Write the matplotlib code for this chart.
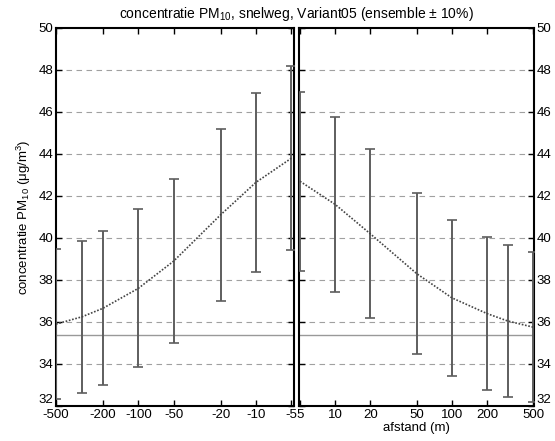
import matplotlib.pyplot as plt
from matplotlib.ticker import FixedLocator, FixedFormatter, NullLocator

plt.rcParams['font.family'] = ['Liberation Sans', 'DejaVu Sans']
plt.rcParams['font.size'] = 9.5
plt.rcParams['mathtext.fontset'] = 'custom'
plt.rcParams['mathtext.rm'] = 'Liberation Sans'
plt.rcParams['mathtext.it'] = 'Liberation Sans'

# distance to the road (m), upwind side (plotted as negative) and downwind side
dist_left = [500, 300, 200, 100, 50, 20, 10, 5]
conc_left = [35.9, 36.25, 36.65, 37.6, 38.9, 41.1, 42.65, 43.8]
dist_right = [5, 10, 20, 50, 100, 200, 300, 500]
conc_right = [42.7, 41.6, 40.2, 38.3, 37.15, 36.4, 36.05, 35.75]
background = 35.4
spread = 0.10  # ensemble +/- 10%

xticks_left = [500, 200, 100, 50, 20, 10, 5]
xlabels_left = ['-500', '-200', '-100', '-50', '-20', '-10', '-5']
xticks_right = [5, 10, 20, 50, 100, 200, 500]
xlabels_right = ['5', '10', '20', '50', '100', '200', '500']
yticks = list(range(32, 51, 2))

W, H = 555, 441
fig = plt.figure(figsize=(W / 100, H / 100), dpi=100)
ax_l = fig.add_axes([56 / W, 1 - 406 / H, 238 / W, 378 / H])
ax_r = fig.add_axes([299 / W, 1 - 406 / H, 235 / W, 378 / H])

bar_col = '#5e5e5e'
for ax, d, c, xt, xl in [(ax_l, dist_left, conc_left, xticks_left, xlabels_left),
                         (ax_r, dist_right, conc_right, xticks_right, xlabels_right)]:
    ax.set_xscale('log')
    for y in yticks[1:-1]:
        ax.axhline(y, color='#a0a0a0', lw=0.8, ls=(0, (5, 4)), zorder=1)
    ax.axhline(background, color='#999999', lw=1.0, zorder=2)
    ax.errorbar(d, c, yerr=[ci * spread for ci in c], fmt='none', ecolor=bar_col,
                elinewidth=1.4, capsize=3.7, capthick=1.2, zorder=3)
    ax.plot(d, c, color='#444444', lw=1.2, ls=(0, (1, 1)), zorder=4)
    ax.set_ylim(32, 50)
    ax.xaxis.set_major_locator(FixedLocator(xt))
    ax.xaxis.set_major_formatter(FixedFormatter(xl))
    ax.xaxis.set_minor_locator(NullLocator())
    ax.set_yticks(yticks)
    ax.tick_params(direction='in', length=4, width=1.0, top=True, bottom=True,
                   left=True, right=True, pad=2, labelsize=9.5)
    for s in ax.spines.values():
        s.set_linewidth(1.5)

ax_l.set_xlim(500, 4.75)
ax_r.set_xlim(4.9, 505)
ax_l.tick_params(labelleft=True, labelright=False)
ax_r.tick_params(labelleft=False, labelright=True)

# lowest y label sits a bit higher, as in the original
for ax in (ax_l, ax_r):
    ax.get_yticklabels()[0].set_va('bottom')

ax_l.set_ylabel(r'concentratie PM$_{\mathregular{10}}$ ($\mathregular{\mu}$g/m$^{\mathregular{3}}$)', labelpad=4)
ax_r.set_xlabel('afstand (m)', labelpad=1)
fig.text(296 / W, 1 - 14 / H,
         r'concentratie PM$_{\mathregular{10}}$, snelweg, Variant05 (ensemble $\pm$ 10%)',
         ha='center', va='center', fontsize=10)

fig.savefig('out.png', dpi=100)
